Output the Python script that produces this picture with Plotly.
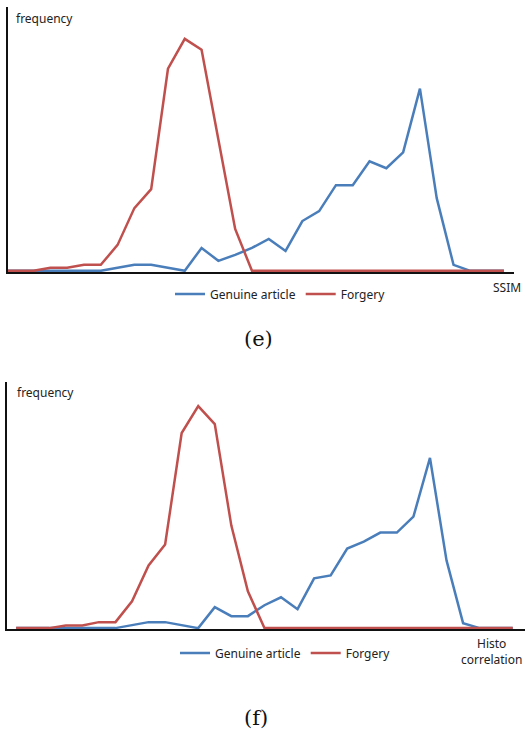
import plotly.graph_objects as go

# Category index (histogram bins)
bins = list(range(31))

# (e) SSIM
ssim_genuine = [0, 0, 0, 0, 0, 0, 0, 3, 6, 6, 3, 0, 23, 10, 16, 23, 32, 20, 50, 60,
                86, 86, 110, 103, 119, 183, 73, 6, 0, 0, 0]
ssim_forgery = [0, 0, 0, 3, 3, 6, 6, 26, 63, 82, 203, 233, 222, 132, 42, 0, 0, 0, 0, 0,
                0, 0, 0, 0, 0, 0, 0, 0, 0, 0, 0]

# (f) Histogram correlation
hist_genuine = [0, 0, 0, 0, 0, 0, 0, 3, 6, 6, 3, 0, 21, 12, 12, 23, 31, 19, 50, 53,
                80, 87, 96, 96, 112, 171, 68, 5, 0, 0, 0]
hist_forgery = [0, 0, 0, 2.7, 2.7, 6, 6, 27, 63, 84, 196, 223, 205, 103, 37, 0, 0, 0, 0, 0,
                0, 0, 0, 0, 0, 0, 0, 0, 0, 0, 0]

series_names = ["Genuine article", "Forgery"]
BLUE = "#4A7EBB"
RED = "#C0504D"
W, H = 525, 730
FONT = "Noto Sans"

fig = go.Figure()
fig.add_trace(go.Scatter(x=bins, y=ssim_genuine, mode="lines", name=series_names[0],
                         line=dict(color=BLUE, width=2.5), xaxis="x", yaxis="y", legend="legend"))
fig.add_trace(go.Scatter(x=bins, y=ssim_forgery, mode="lines", name=series_names[1],
                         line=dict(color=RED, width=2.5), xaxis="x", yaxis="y", legend="legend"))
fig.add_trace(go.Scatter(x=bins, y=hist_genuine, mode="lines", name=series_names[0],
                         line=dict(color=BLUE, width=2.5), xaxis="x2", yaxis="y2", legend="legend2"))
fig.add_trace(go.Scatter(x=bins, y=hist_forgery, mode="lines", name=series_names[1],
                         line=dict(color=RED, width=2.5), xaxis="x2", yaxis="y2", legend="legend2"))

ax_common = dict(showgrid=False, zeroline=False, showticklabels=False, ticks="",
                 showline=True, linecolor="#111111", linewidth=1.6, fixedrange=True)

def px(x):
    return x / W

def py(y):
    return 1 - y / H

fig.update_layout(
    width=W, height=H,
    margin=dict(l=0, r=0, t=0, b=0),
    paper_bgcolor="white", plot_bgcolor="white",
    font=dict(family=FONT, size=12, color="#222222"),
    xaxis=dict(domain=[px(8), px(514)], range=[0.476, 30.6], anchor="y", **ax_common),
    yaxis=dict(domain=[py(272), py(7)], range=[-1.2, 265], anchor="x", **ax_common),
    xaxis2=dict(domain=[px(6.7), 1.0], range=[-0.57, 30.74], anchor="y2", **ax_common),
    yaxis2=dict(domain=[py(629.3), py(381.7)], range=[-1.2, 247.6], anchor="x2", **ax_common),
    legend=dict(orientation="h", x=px(170), y=py(294), xanchor="left", yanchor="middle",
                font=dict(family=FONT, size=12, color="#222222"), bgcolor="rgba(0,0,0,0)",
                itemwidth=30, tracegroupgap=0),
    legend2=dict(orientation="h", x=px(175), y=py(653), xanchor="left", yanchor="middle",
                 font=dict(family=FONT, size=12, color="#222222"), bgcolor="rgba(0,0,0,0)",
                 itemwidth=30, tracegroupgap=0),
    annotations=[
        dict(text="frequency", x=px(14), y=py(18), xref="paper", yref="paper",
             xanchor="left", yanchor="middle", showarrow=False, font=dict(size=12)),
        dict(text="frequency", x=px(15), y=py(393), xref="paper", yref="paper",
             xanchor="left", yanchor="middle", showarrow=False, font=dict(size=12)),
        dict(text="SSIM", x=px(523), y=py(287), xref="paper", yref="paper",
             xanchor="right", yanchor="middle", showarrow=False, font=dict(size=12)),
        dict(text="Histo<br>correlation", x=px(524), y=py(651), xref="paper", yref="paper",
             xanchor="right", yanchor="middle", showarrow=False, align="center",
             font=dict(size=12)),
        dict(text="(e)", x=px(258), y=py(339), xref="paper", yref="paper",
             xanchor="center", yanchor="middle", showarrow=False,
             font=dict(family="DejaVu Serif", size=21, color="#111111")),
        dict(text="(f)", x=px(256), y=py(718), xref="paper", yref="paper",
             xanchor="center", yanchor="middle", showarrow=False,
             font=dict(family="DejaVu Serif", size=21, color="#111111")),
    ],
)

fig.write_html("out.html", config={"displayModeBar": False})
